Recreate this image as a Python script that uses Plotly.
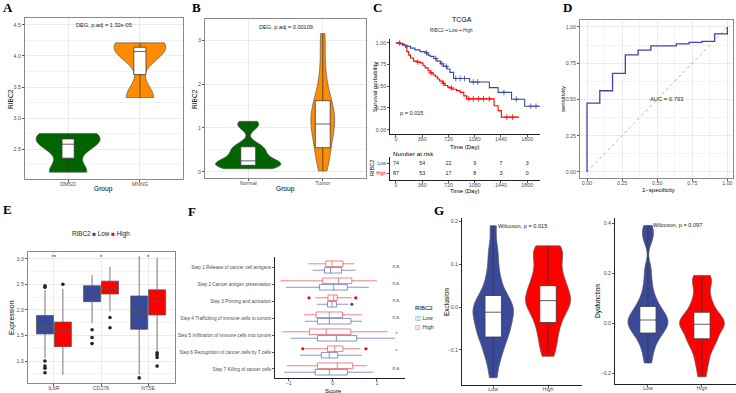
import plotly.graph_objects as go

W, H = 736, 393

# ======================= DATA =======================
# Panel A - RIBC2 expression by treatment group
a_groups = ["DMSO", "MNNG"]
a_dmso = [2.13, 2.58, 2.75]
a_mnng = [3.33, 4.07, 4.21]
a_q1 = [2.355, 3.70]
a_med = [2.58, 4.07]
a_q3 = [2.665, 4.14]
a_lo = [2.13, 3.33]
a_hi = [2.75, 4.21]
a_yticks = [2.5, 3.0, 3.5, 4.0, 4.5]
a_label = "DEG, p.adj = 1.32e-05"

# Panel B - RIBC2 in Normal vs Tumor
b_groups = ["Normal", "Tumor"]
b_normal = [0.07, 0.1, 0.12, 0.14, 0.16, 0.18, 0.2, 0.23, 0.27, 0.33, 0.4, 0.46,
            0.52, 0.57, 0.63, 1.02, 1.08, 1.15]
b_tumor = [0.02, 0.15, 0.3, 0.45, 0.55, 0.65, 0.75, 0.85, 0.95, 1.02, 1.09, 1.15,
           1.22, 1.3, 1.38, 1.46, 1.55, 1.62, 1.75, 1.9, 2.1, 2.4, 2.8, 3.15]
b_q1 = [0.15, 0.55]
b_med = [0.25, 1.09]
b_q3 = [0.57, 1.62]
b_lo = [0.07, 0.02]
b_hi = [1.15, 3.15]
b_yticks = [0, 1, 2, 3]
b_label = "DEG, p.adj = 0.00109"

# Panel C - Kaplan-Meier (TCGA)
km_low_t = [0, 40, 90, 150, 200, 260, 330, 400, 440, 470, 520, 560, 610, 650, 700,
            740, 790, 1010, 1280, 1400, 1585, 1765, 1975]
km_low_s = [1.0, 0.99, 0.975, 0.96, 0.94, 0.92, 0.9, 0.885, 0.86, 0.845, 0.82, 0.79,
            0.76, 0.73, 0.7, 0.66, 0.59, 0.55, 0.485, 0.43, 0.35, 0.27, 0.27]
km_high_t = [0, 60, 110, 130, 150, 175, 200, 240, 290, 335, 370, 400, 440, 470, 510,
             540, 570, 600, 640, 670, 710, 740, 780, 830, 880, 930, 970, 1345, 1400,
             1445, 1690]
km_high_s = [1.0, 0.99, 0.97, 0.95, 0.9, 0.86, 0.826, 0.79, 0.78, 0.77, 0.74, 0.712,
             0.68, 0.655, 0.63, 0.61, 0.585, 0.56, 0.535, 0.51, 0.49, 0.48, 0.466,
             0.45, 0.43, 0.39, 0.355, 0.276, 0.22, 0.144, 0.144]
cens_low_t = [420, 545, 630, 690, 820, 880, 940, 1060, 1120, 1480, 1650, 1850, 1920]
cens_high_t = [50, 300, 480, 650, 760, 1000, 1060, 1130, 1200, 1280, 1520, 1600]
risk_times = [0, 360, 720, 1080, 1440, 1800]
risk_low = [74, 54, 22, 9, 7, 3]
risk_high = [87, 53, 17, 8, 3, 0]
c_yticks = [0, 0.25, 0.5, 0.75, 1.0]
c_pval = "p = 0.015"

# Panel D - ROC
roc_fpr = [0, 0, 0.091, 0.182, 0.273, 0.364, 0.455, 0.636, 0.727, 0.818, 0.909, 1.0]
roc_tpr = [0, 0.474, 0.56, 0.68, 0.807, 0.84, 0.869, 0.883, 0.894, 0.9, 0.952, 1.0]
diag = [0, 1]
d_ticks = [0, 0.25, 0.5, 0.75, 1.0]
auc_label = "AUC = 0.793"

# Panel E - immune checkpoint genes
e_genes = ["IL6R", "CD276", "NT5E"]
e_low_q1 = [1.53, 2.16, 1.62]
e_low_med = [1.67, 2.35, 1.98]
e_low_q3 = [1.89, 2.47, 2.27]
e_low_lo = [1.06, 1.74, 0.73]
e_low_hi = [2.39, 2.68, 3.05]
e_high_q1 = [1.28, 2.31, 1.90]
e_high_med = [1.59, 2.41, 2.17]
e_high_q3 = [1.76, 2.56, 2.39]
e_high_lo = [0.73, 1.97, 1.20]
e_high_hi = [2.41, 2.84, 3.02]
e_low_out_gene = [0, 0, 0, 0, 0, 0, 1, 1, 1, 2]
e_low_out_val = [2.47, 2.44, 1.0, 0.9, 0.86, 0.77, 1.61, 1.46, 1.34, 0.67]
e_high_out_gene = [0, 1, 1, 2, 2, 2, 2]
e_high_out_val = [2.5, 1.85, 1.65, 1.16, 1.12, 1.07, 0.9]
e_sig = ["**", "*", "*"]
e_yticks = [1.0, 1.5, 2.0, 2.5, 3.0]

# Panel F - cancer immunity cycle
f_steps = ["Step 1 Release of cancer cell antigens",
           "Step 2 Cancer antigen presentation",
           "Step 3 Priming and activation",
           "Step 4 Trafficking of immune cells to tumors",
           "Step 5 Infiltration of immune cells into tumors",
           "Step 6 Recognition of cancer cells by T cells",
           "Step 7 Killing of cancer cells"]
f_high_q1 = [-0.16, -0.23, -0.11, -0.38, -0.53, -0.12, -0.35]
f_high_med = [-0.02, 0.13, 0.02, -0.08, -0.15, 0.04, 0.10]
f_high_q3 = [0.23, 0.43, 0.10, 0.22, 0.41, 0.23, 0.45]
f_high_lo = [-0.55, -1.19, -0.40, -0.65, -1.15, -0.63, -1.04]
f_high_hi = [0.48, 1.0, 0.43, 0.66, 1.24, 0.62, 0.78]
f_low_q1 = [-0.19, -0.30, -0.12, -0.35, -0.35, -0.26, -0.40]
f_low_med = [-0.05, 0.02, -0.02, -0.08, 0.08, -0.08, -0.08]
f_low_q3 = [0.20, 0.33, 0.08, 0.41, 0.54, 0.11, 0.33]
f_low_lo = [-0.46, -1.06, -0.36, -0.63, -0.95, -0.74, -1.10]
f_low_hi = [0.52, 0.82, 0.35, 0.66, 1.41, 0.66, 0.92]
f_high_out_step = [2, 2, 5, 5]
f_high_out_val = [-0.54, 0.52, -0.68, 0.75]
f_low_out_step = [2]
f_low_out_val = [0.43]
f_sig = ["n.s.", "n.s.", "n.s.", "n.s.", "*", "*", "n.s."]
f_xticks = [-1, 0, 1]

# Panel G - TIDE exclusion / dysfunction
g_groups = ["Low", "High"]
g_excl_low = [-0.165, -0.13, -0.11, -0.095, -0.08, -0.07, -0.06, -0.05, -0.045, -0.035,
              -0.025, -0.015, -0.01, -0.005, 0.0, 0.01, 0.02, 0.027, 0.04, 0.06, 0.08,
              0.11, 0.14, 0.19]
g_excl_high = [-0.115, -0.09, -0.07, -0.05, -0.036, -0.02, -0.01, 0.0, 0.01, 0.015,
               0.02, 0.03, 0.04, 0.05, 0.06, 0.07, 0.085, 0.1, 0.115, 0.13, 0.14, 0.143]
g_excl_q1 = [-0.07, -0.036]
g_excl_med = [-0.012, 0.015]
g_excl_q3 = [0.027, 0.05]
g_excl_lo = [-0.165, -0.115]
g_excl_hi = [0.19, 0.143]
g_dys_low = [-0.16, -0.12, -0.09, -0.07, -0.05, -0.04, -0.03, -0.02, -0.01, 0.0, 0.005,
             0.012, 0.02, 0.03, 0.04, 0.05, 0.066, 0.08, 0.1, 0.13, 0.17, 0.22, 0.33,
             0.36, 0.39]
g_dys_high = [-0.215, -0.17, -0.14, -0.11, -0.09, -0.075, -0.063, -0.05, -0.035, -0.02,
              -0.01, -0.005, 0.0, 0.01, 0.02, 0.03, 0.043, 0.06, 0.08, 0.1, 0.13, 0.16,
              0.18, 0.19]
g_dys_q1 = [-0.04, -0.063]
g_dys_med = [0.012, -0.005]
g_dys_q3 = [0.066, 0.043]
g_dys_lo = [-0.16, -0.215]
g_dys_hi = [0.39, 0.19]
g_excl_ticks = [-0.1, 0.0, 0.1, 0.2]
g_dys_ticks = [-0.2, 0.0, 0.2, 0.4]
g_excl_label = "Wilcoxon, p = 0.015"
g_dys_label = "Wilcoxon, p = 0.097"

# ======================= STYLE =======================
LOW = "#3A4A98"
HIGH = "#FF0000"
GREEN = "#006400"
ORANGE = "#FF8C00"
FONT = "Liberation Sans"
SERIF = "Liberation Serif"
FS_T = 5.3
FS_AX = 6.6


def xd(l, r):
    return [l / W, r / W]


def yd(t, b):
    return [1 - b / H, 1 - t / H]


annotations = []


def note(text, x, y, size=FS_AX, xanchor="center", yanchor="middle", angle=0,
         color="#000", family=FONT):
    annotations.append(dict(text=text, x=x / W, y=1 - y / H, xref="paper", yref="paper",
                            showarrow=False, xanchor=xanchor, yanchor=yanchor,
                            textangle=angle, font=dict(size=size, color=color, family=family)))


def axis(domain, anchor, frame=False, grid=False, xa=False, **kw):
    d = dict(domain=domain, anchor=anchor, automargin=False, zeroline=False,
             showline=True, linecolor="#8A8A8A" if frame else "#222",
             linewidth=0.9 if frame else 0.7, mirror=frame, ticks="outside",
             ticklen=2, tickwidth=0.6, tickcolor="#555",
             ticklabelstandoff=-2 if xa else 0,
             tickfont=dict(size=FS_T, color="#4D4D4D", family=FONT),
             showgrid=grid, gridcolor="#EBEBEB", gridwidth=0.6, fixedrange=True)
    d.update(kw)
    return d


fig = go.Figure()


def violin(cat, vals, color, width, bw, xa, ya):
    fig.add_trace(go.Violin(x=[cat] * len(vals), y=vals, width=width, bandwidth=bw,
                            scalemode="width", spanmode="hard", fillcolor=color,
                            line=dict(color="#5A5A5A", width=0.7), points=False,
                            box_visible=False, meanline_visible=False, opacity=1,
                            xaxis=xa, yaxis=ya, showlegend=False, hoverinfo="skip"))


def inner_box(cats, q1, med, q3, lo, hi, width, xa, ya):
    fig.add_trace(go.Box(x=cats, q1=q1, median=med, q3=q3, lowerfence=lo, upperfence=hi,
                         width=width, fillcolor="white", line=dict(color="#3A3A3A", width=0.8),
                         whiskerwidth=0, boxpoints=False, xaxis=xa, yaxis=ya,
                         showlegend=False, hoverinfo="skip"))


# ---------- A ----------
violin(a_groups[0], a_dmso, GREEN, 0.89, 0.16, "x", "y")
violin(a_groups[1], a_mnng, ORANGE, 0.72, 0.2, "x", "y")
inner_box(a_groups, a_q1, a_med, a_q3, a_lo, a_hi, 0.17, "x", "y")

# ---------- B ----------
violin(b_groups[0], b_normal, GREEN, 0.88, 0.11, "x2", "y2")
violin(b_groups[1], b_tumor, ORANGE, 0.32, 0.25, "x2", "y2")
inner_box(b_groups, b_q1, b_med, b_q3, b_lo, b_hi, 0.2, "x2", "y2")


# ---------- C ----------
def surv_at(ts, ss, t):
    s = ss[0]
    for ti, si in zip(ts, ss):
        if ti <= t:
            s = si
    return s


for ts, ss, cens, col in [(km_low_t, km_low_s, cens_low_t, LOW),
                          (km_high_t, km_high_s, cens_high_t, HIGH)]:
    fig.add_trace(go.Scatter(x=ts, y=ss, mode="lines", line=dict(color=col, width=1.1, shape="hv"),
                             xaxis="x3", yaxis="y3", showlegend=False, hoverinfo="skip"))
    fig.add_trace(go.Scatter(x=cens, y=[surv_at(ts, ss, c) for c in cens], mode="markers",
                             marker=dict(symbol="cross-thin", size=4, line=dict(width=0.8, color=col)),
                             xaxis="x3", yaxis="y3", showlegend=False, hoverinfo="skip"))

for row, vals in enumerate([risk_low, risk_high]):
    fig.add_trace(go.Scatter(x=risk_times, y=[row] * len(vals), text=[str(v) for v in vals],
                             mode="text", textfont=dict(size=5.3, color="#222", family=FONT),
                             xaxis="x4", yaxis="y4", showlegend=False, hoverinfo="skip"))

# ---------- D ----------
fig.add_trace(go.Scatter(x=diag, y=diag, mode="lines",
                         line=dict(color="#A0A0A0", width=0.8, dash="dot"),
                         xaxis="x5", yaxis="y5", showlegend=False, hoverinfo="skip"))
fig.add_trace(go.Scatter(x=roc_fpr, y=roc_tpr, mode="lines",
                         line=dict(color="#4343B0", width=1.3, shape="hv"),
                         xaxis="x5", yaxis="y5", showlegend=False, hoverinfo="skip"))

# ---------- E ----------
E_OFF = 0.19
for off, col, q1, med, q3, lo, hi, og, ov in [
        (-E_OFF, LOW, e_low_q1, e_low_med, e_low_q3, e_low_lo, e_low_hi, e_low_out_gene, e_low_out_val),
        (E_OFF, HIGH, e_high_q1, e_high_med, e_high_q3, e_high_lo, e_high_hi, e_high_out_gene, e_high_out_val)]:
    fig.add_trace(go.Box(x=[i + off for i in range(len(e_genes))], q1=q1, median=med, q3=q3,
                         lowerfence=lo, upperfence=hi, width=0.36, fillcolor=col,
                         line=dict(color="#555555", width=0.8), whiskerwidth=0, boxpoints=False,
                         xaxis="x6", yaxis="y6", showlegend=False, hoverinfo="skip"))
    fig.add_trace(go.Scatter(x=[g + off for g in og], y=ov, mode="markers",
                             marker=dict(color="#222", size=3.6),
                             xaxis="x6", yaxis="y6", showlegend=False, hoverinfo="skip"))
fig.add_trace(go.Scatter(x=list(range(len(e_genes))), y=[3.03] * len(e_genes), text=e_sig,
                         mode="text", textfont=dict(size=6, color="#222", family=FONT),
                         xaxis="x6", yaxis="y6", showlegend=False, hoverinfo="skip"))

# ---------- F ----------
F_OFF = 0.19
for off, col, q1, med, q3, lo, hi, os_, ov in [
        (-F_OFF, HIGH, f_high_q1, f_high_med, f_high_q3, f_high_lo, f_high_hi, f_high_out_step, f_high_out_val),
        (F_OFF, LOW, f_low_q1, f_low_med, f_low_q3, f_low_lo, f_low_hi, f_low_out_step, f_low_out_val)]:
    lc = "rgba(238,70,70,0.85)" if col == HIGH else "rgba(80,95,180,0.85)"
    fig.add_trace(go.Box(y=[i + off for i in range(len(f_steps))], q1=q1, median=med, q3=q3,
                         lowerfence=lo, upperfence=hi, orientation="h", width=0.33,
                         fillcolor="white", line=dict(color=lc, width=0.8), whiskerwidth=0,
                         boxpoints=False, xaxis="x7", yaxis="y7", showlegend=False, hoverinfo="skip"))
    fig.add_trace(go.Scatter(x=ov, y=[s + off for s in os_], mode="markers",
                             marker=dict(color=col, size=3.2),
                             xaxis="x7", yaxis="y7", showlegend=False, hoverinfo="skip"))
fig.add_trace(go.Scatter(x=[1.44] * len(f_steps), y=list(range(len(f_steps))), text=f_sig,
                         mode="text", textfont=dict(size=4.8, color="#333", family=FONT),
                         xaxis="x7", yaxis="y7", showlegend=False, hoverinfo="skip"))

# ---------- G ----------
violin(g_groups[0], g_excl_low, LOW, 0.74, 0.022, "x8", "y8")
violin(g_groups[1], g_excl_high, HIGH, 0.82, 0.022, "x8", "y8")
inner_box(g_groups, g_excl_q1, g_excl_med, g_excl_q3, g_excl_lo, g_excl_hi, 0.3, "x8", "y8")
violin(g_groups[0], g_dys_low, LOW, 0.74, 0.028, "x9", "y9")
violin(g_groups[1], g_dys_high, HIGH, 0.83, 0.028, "x9", "y9")
inner_box(g_groups, g_dys_q1, g_dys_med, g_dys_q3, g_dys_lo, g_dys_hi, 0.3, "x9", "y9")

# ======================= AXES =======================
minor_grid = lambda dt: dict(dtick=dt, showgrid=True, gridcolor="#F4F4F4", gridwidth=0.5, ticks="")
layout_axes = dict(
    xaxis=axis(xd(25, 183), "y", frame=True, grid=True, xa=True, type="category",
               categoryarray=a_groups, range=[-0.6, 1.6]),
    yaxis=axis(yd(18, 179), "x", frame=True, grid=True, range=[2.02, 4.61],
               tickvals=a_yticks, tickformat=".1f", minor=minor_grid(0.25)),
    xaxis2=axis(xd(205, 366), "y2", frame=True, grid=True, xa=True, type="category",
                categoryarray=b_groups, range=[-0.58, 1.58]),
    yaxis2=axis(yd(19, 178), "x2", frame=True, grid=True, range=[-0.14, 3.48],
                tickvals=b_yticks, minor=minor_grid(0.5)),
    xaxis3=axis(xd(390, 540), "y3", xa=True, range=[-82, 1975], tickvals=risk_times),
    yaxis3=axis(yd(38.6, 134), "x3", range=[-0.05, 1.05], tickvals=c_yticks, tickformat=".2f"),
    xaxis4=axis(xd(390, 540), "y4", xa=True, range=[-82, 1975], tickvals=risk_times),
    yaxis4=axis(yd(157, 180), "x4", range=[1.6, -0.6], tickvals=[0, 1],
                tickfont=dict(size=4.8, family=FONT),
                ticktext=["<span style='color:%s'>Low</span>" % LOW,
                          "<span style='color:%s'>High</span>" % HIGH]),
    xaxis5=axis(xd(580, 733), "y5", frame=True, grid=True, xa=True, range=[-0.05, 1.04],
                tickvals=d_ticks, tickformat=".2f", minor=minor_grid(0.125)),
    yaxis5=axis(yd(20, 178), "x5", frame=True, grid=True, range=[-0.042, 1.048],
                tickvals=d_ticks, tickformat=".2f", minor=minor_grid(0.125)),
    xaxis6=axis(xd(28, 175), "y6", frame=True, grid=True, xa=True, range=[-0.55, 2.57],
                tickvals=list(range(len(e_genes))), ticktext=e_genes),
    yaxis6=axis(yd(252, 383), "x6", frame=True, grid=True, range=[0.57, 3.13],
                tickvals=e_yticks, tickformat=".1f", minor=minor_grid(0.25)),
    xaxis7=axis(xd(275, 405), "y7", xa=True, range=[-1.31, 1.635], tickvals=f_xticks),
    yaxis7=axis(yd(257, 378), "x7", range=[6.53, -0.59],
                tickvals=list(range(len(f_steps))), ticktext=f_steps,
                tickfont=dict(size=4.7, color="#4D4D4D", family=FONT)),
    xaxis8=axis(xd(462, 582), "y8", xa=True, type="category", categoryarray=g_groups,
                range=[-0.57, 1.62], ticklabelstandoff=-3),
    yaxis8=axis(yd(218, 385), "x8", range=[-0.182, 0.208], tickvals=g_excl_ticks, tickformat=".1f"),
    xaxis9=axis(xd(615, 736), "y9", xa=True, type="category", categoryarray=g_groups,
                range=[-0.61, 1.63], ticklabelstandoff=-3),
    yaxis9=axis(yd(218, 384), "x9", range=[-0.244, 0.42], tickvals=g_dys_ticks, tickformat=".1f"),
)

# ======================= TEXT =======================
LET = 13
note("<b>A</b>", 8, 8, size=LET, family=SERIF)
note("<b>B</b>", 196, 8, size=LET, family=SERIF)
note("<b>C</b>", 377, 8, size=LET, family=SERIF)
note("<b>D</b>", 567, 8, size=LET, family=SERIF)
note("<b>E</b>", 7, 209, size=LET, family=SERIF)
note("<b>F</b>", 192, 211, size=LET, family=SERIF)
note("<b>G</b>", 439, 210, size=LET, family=SERIF)

# A
note(a_label, 104, 25, size=5.6, color="#222")
note("Group", 104, 189)
note("RIBC2", 11, 99, angle=-90)
# B
note(b_label, 286, 27, size=5.6, color="#222")
note("Group", 285, 189)
note("RIBC2", 195, 99, angle=-90)
# C
note("TCGA", 462, 19, size=7)
note("RIBC2 <span style='color:%s'>━</span> Low <span style='color:%s'>━</span> High" % (LOW, HIGH),
     452, 30, size=4.6, color="#333")
note("Survival probability", 375, 87, angle=-90, size=6)
note("Time (Day)", 465, 146.5, size=6)
note(c_pval, 398, 113, size=5.6, xanchor="left", color="#222")
note("Number at risk", 391, 153, size=6.2, xanchor="left")
note("RIBC2", 372, 168, angle=-90, size=5.5)
note("Time (Day)", 465, 191, size=6)
# D
note(auc_label, 666, 99, size=5.8, color="#222")
note("1\u2212specificity", 658, 190, size=6)
note("sensitivity", 563, 99, angle=-90, size=6)
# E
note("RIBC2 <span style='color:%s'>\u25a0</span> Low <span style='color:%s'>\u25a0</span> High" % (LOW, HIGH),
     101, 234, size=6.3, color="#222")
note("Expression", 12, 318, angle=-90, size=7)
# F
note("Score", 333, 390, size=6.2)
note("RIBC2", 413, 308, size=6, xanchor="left")
note("<span style='color:%s'>\u25eb</span> Low" % LOW, 413, 318, size=5.5, xanchor="left", color="#333")
note("<span style='color:%s'>\u25eb</span> High" % HIGH, 413, 327, size=5.5, xanchor="left", color="#333")
# G
annotations.append(dict(text=g_excl_label, x=0, y=max(g_excl_low), xref="x8", yref="y8",
                        xanchor="left", yanchor="middle", xshift=3, showarrow=False,
                        font=dict(size=5.6, color="#222", family=FONT)))
annotations.append(dict(text=g_dys_label, x=0, y=max(g_dys_low), xref="x9", yref="y9",
                        xanchor="left", yanchor="middle", xshift=3, showarrow=False,
                        font=dict(size=5.6, color="#222", family=FONT)))
note("Exclusion", 446, 302, angle=-90, size=6.5)
note("Dysfunction", 598, 301, angle=-90, size=6.5)

fig.update_layout(
    width=W, height=H, margin=dict(l=0, r=0, t=0, b=0, pad=0),
    template="none", paper_bgcolor="white", plot_bgcolor="white",
    font=dict(family=FONT, size=6, color="#000"),
    showlegend=False, violinmode="overlay", boxmode="overlay",
    annotations=annotations, **layout_axes)

fig.write_html("out.html", config={"displayModeBar": False})
